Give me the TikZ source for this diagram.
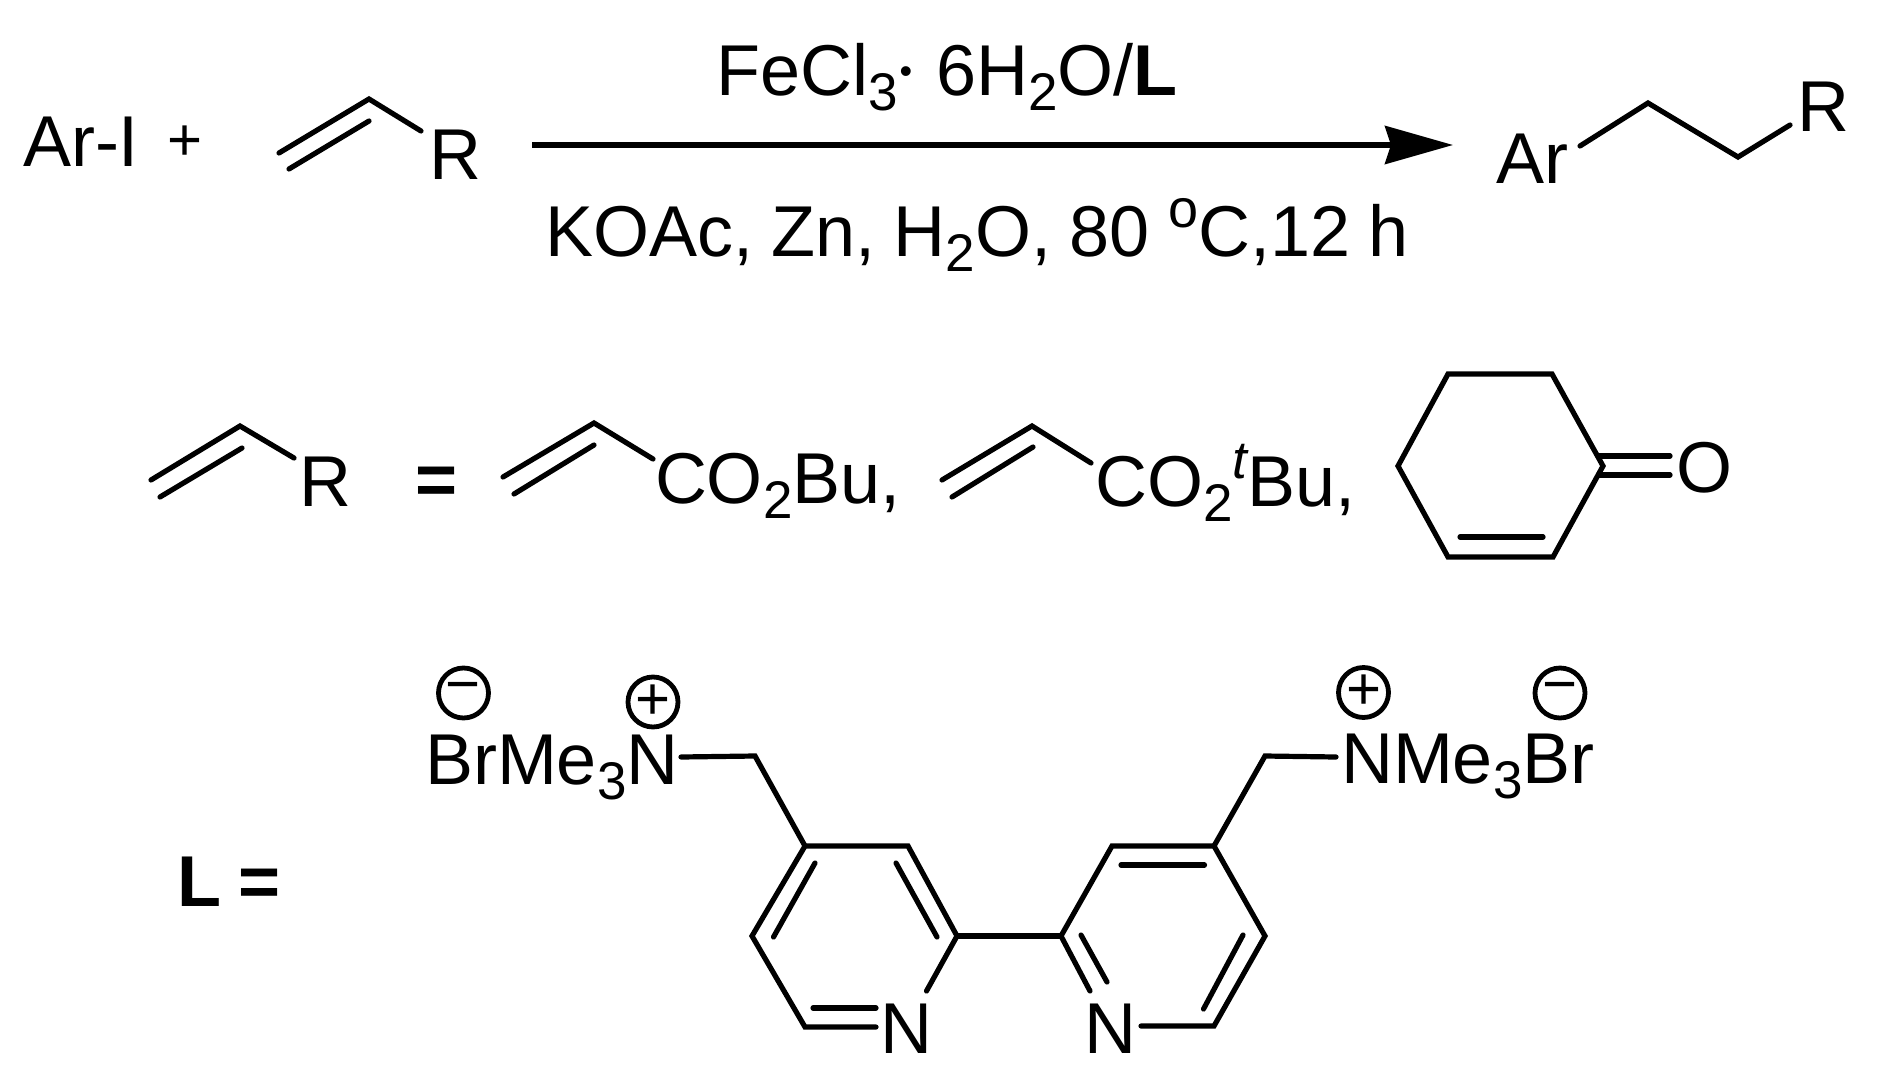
\documentclass[tikz,border=0pt]{standalone}
\usepackage{fontspec}
\setmainfont{Liberation Sans}
\usetikzlibrary{arrows.meta}
\newcommand{\subs}[1]{\raisebox{-7.5pt}{\fontsize{26.5}{26.5}\selectfont #1}}
\tikzset{
  x=0.5pt,y=-0.5pt,
  chem/.style={anchor=base west,inner sep=0pt,outer sep=0pt,font=\fontsize{36}{36}\selectfont},
  small/.style={chem,font=\fontsize{30}{30}\selectfont},
  bond/.style={line width=2.6pt,line cap=round,line join=miter,black},
  charge/.style={circle,draw,line width=2.4pt,inner sep=0pt,minimum size=25pt,font=\fontsize{30}{30}\selectfont},
  reaction/.style={line width=2.7pt,-{Stealth[length=34pt,width=19pt,inset=3pt]}}
}
\begin{document}
\begin{tikzpicture}
\useasboundingbox (0,0) rectangle (1877,1081);
% top reaction
\node[chem] (ari) at (23,166) {Ar-I};
\node[small] (plus) at (167,160) {+};
\coordinate (v1a) at (279,153); \coordinate (v1b) at (369,99); \coordinate (v1c) at (421,131);
\coordinate (v1d) at (289,169); \coordinate (v1e) at (369,121);
\draw[bond] (v1a)--(v1b)--(v1c); \draw[bond] (v1d)--(v1e);
\node[chem] (r1) at (429,179) {R};
\coordinate (arA) at (532,145); \coordinate (arB) at (1453,145);
\draw[reaction] (arA)--(arB);
\node[chem] (cond1) at (716,96) {FeCl\subs{3}\hspace{1pt}\raisebox{6pt}{\fontsize{18}{18}\selectfont\textbullet}\hspace{2pt} 6H\subs{2}O/\textbf{L}};
\node[chem] (cond2) at (545,256) {\spaceskip=9.2pt KOAc, Zn, H\subs{2}O, 80 \raisebox{14.5pt}{\fontsize{27}{27}\selectfont o}C,12 h};
\node[chem] (ar) at (1496,183) {Ar};
\coordinate (p1) at (1580,146); \coordinate (p2) at (1648,103); \coordinate (p3) at (1738,157); \coordinate (p4) at (1790,125);
\draw[bond] (p1)--(p2)--(p3)--(p4);
\node[chem] (r2) at (1797,132) {R};
% alkene row
\coordinate (a1) at (151,480); \coordinate (a2) at (240,426); \coordinate (a3) at (294,458);
\coordinate (a4) at (160,497); \coordinate (a5) at (242,448);
\draw[bond] (a1)--(a2)--(a3); \draw[bond] (a4)--(a5);
\node[chem] (r3) at (299,506) {R};
\node[chem,font=\fontsize{36}{36}\selectfont\bfseries] (eq1) at (415,504) {=};
\coordinate (b1) at (503,477); \coordinate (b2) at (594,423); \coordinate (b3) at (653,459);
\coordinate (b4) at (514,494); \coordinate (b5) at (594,445);
\draw[bond] (b1)--(b2)--(b3); \draw[bond] (b4)--(b5);
\node[chem] (ester1) at (655,503) {CO\subs{2}Bu,};
\coordinate (c1) at (942,480); \coordinate (c2) at (1032,426); \coordinate (c3) at (1091,463);
\coordinate (c4) at (952,497); \coordinate (c5) at (1033,447);
\draw[bond] (c1)--(c2)--(c3); \draw[bond] (c4)--(c5);
\node[chem] (ester2) at (1095,506) {CO\subs{2}\raisebox{14pt}{\fontsize{26.5}{26.5}\selectfont\itshape t}Bu,};
% cyclohexenone
\coordinate (h1) at (1448,374); \coordinate (h2) at (1552,374); \coordinate (h3) at (1603,466);
\coordinate (h4) at (1553,557); \coordinate (h5) at (1448,557); \coordinate (h6) at (1398,466);
\draw[bond] (h1)--(h2)--(h3)--(h4)--(h5)--(h6)--cycle;
\coordinate (h7) at (1460,537); \coordinate (h8) at (1543,537);
\draw[bond] (h7)--(h8);
\coordinate (co1) at (1599,456); \coordinate (co2) at (1670,456); \coordinate (co3) at (1599,475); \coordinate (co4) at (1670,475);
\draw[bond] (co1)--(co2); \draw[bond] (co3)--(co4);
\node[chem] (oxy) at (1676,492) {O};
% ligand
\node[chem,font=\fontsize{36}{36}\selectfont\bfseries] (ligL) at (177,906) {L};
\node[chem,font=\fontsize{36}{36}\selectfont\bfseries] (eq2) at (238,906) {=};
\node[chem] (lgroup) at (425,784) {BrMe\subs{3}N};
\node[chem] (rgroup) at (1341,783) {NMe\subs{3}Br};
\node[charge] (m1) at (463.5,693) {−};
\node[charge] (p5) at (653,702) {+};
\node[charge] (p6) at (1363.5,692.5) {+};
\node[charge] (m2) at (1560,693) {−};
\coordinate (l1) at (681,757); \coordinate (l2) at (755,756);
\coordinate (la) at (805,846); \coordinate (lb) at (908,846); \coordinate (lc) at (957,936);
\coordinate (ld) at (926.5,991); \coordinate (le) at (876,1027); \coordinate (lf) at (805,1027); \coordinate (lg) at (752,936);
\draw[bond] (l1)--(l2)--(la);
\draw[bond] (ld)--(lc)--(lb)--(la)--(lg)--(lf)--(le);
\coordinate (li1) at (815,863); \coordinate (li2) at (773.5,937);
\coordinate (li3) at (896,863); \coordinate (li4) at (937,937);
\coordinate (li5) at (813,1008); \coordinate (li6) at (876,1008);
\draw[bond] (li1)--(li2); \draw[bond] (li3)--(li4); \draw[bond] (li5)--(li6);
\node[chem] (n1) at (880,1053) {N};
\coordinate (ra) at (1112,846); \coordinate (rb) at (1214,846); \coordinate (rc) at (1265,936);
\coordinate (rd) at (1214,1026); \coordinate (re) at (1141,1026); \coordinate (rf) at (1090,991); \coordinate (rg) at (1061,936);
\draw[bond] (rf)--(rg)--(ra)--(rb)--(rc)--(rd)--(re);
\draw[bond] (lc)--(rg);
\coordinate (ri1) at (1081,935); \coordinate (ri2) at (1107,982);
\coordinate (ri3) at (1121,865); \coordinate (ri4) at (1204.5,865);
\coordinate (ri5) at (1243,935); \coordinate (ri6) at (1203.5,1009);
\draw[bond] (ri1)--(ri2); \draw[bond] (ri3)--(ri4); \draw[bond] (ri5)--(ri6);
\node[chem] (n2) at (1084,1053) {N};
\coordinate (r1a) at (1265,756); \coordinate (r1b) at (1336,757);
\draw[bond] (rb)--(r1a)--(r1b);
\end{tikzpicture}
\end{document}
